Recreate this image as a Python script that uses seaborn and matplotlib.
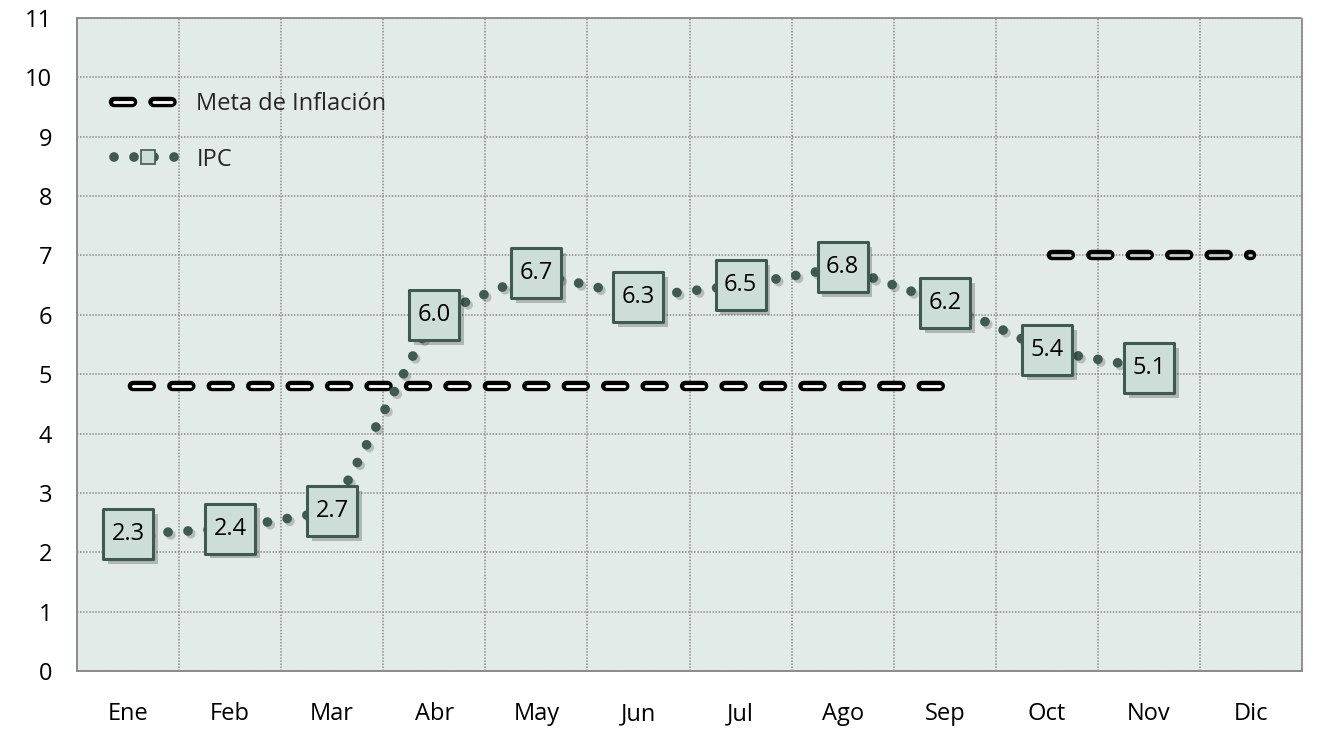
import matplotlib
matplotlib.use("Agg")
import matplotlib.pyplot as plt
import matplotlib.patheffects as pe
from matplotlib.lines import Line2D
import numpy as np
import pandas as pd
import seaborn as sns

# ---- data ----
months = ["Ene", "Feb", "Mar", "Abr", "May", "Jun", "Jul", "Ago", "Sep", "Oct", "Nov", "Dic"]
ipc_months = ["Ene", "Feb", "Mar", "Abr", "May", "Jun", "Jul", "Ago", "Sep", "Oct", "Nov"]
ipc_values = [2.3, 2.4, 2.7, 6.0, 6.7, 6.3, 6.5, 6.8, 6.2, 5.4, 5.1]
meta1_months = ["Ene", "Feb", "Mar", "Abr", "May", "Jun", "Jul", "Ago", "Sep"]
meta1_values = [4.8, 4.8, 4.8, 4.8, 4.8, 4.8, 4.8, 4.8, 4.8]
meta2_months = ["Oct", "Nov", "Dic"]
meta2_values = [7.0, 7.0, 7.0]
yticks = [0, 1, 2, 3, 4, 5, 6, 7, 8, 9, 10, 11]
label_meta = "Meta de Inflación"
label_ipc = "IPC"

# ---- styling ----
sns.set_theme(style="white")
plt.rcParams['font.family'] = ['Open Sans', 'DejaVu Sans']
plt.rcParams['lines.scale_dashes'] = False

BG = '#E2EBE8'
BOX = '#CDDDD8'
DARK = '#3E5B51'
GRID = '#8C8C8C'
FS = 17

pos = {m: i for i, m in enumerate(months)}
ipc_df = pd.DataFrame({"x": [pos[m] for m in ipc_months], "y": ipc_values})
m1_df = pd.DataFrame({"x": [pos[m] for m in meta1_months], "y": meta1_values})
m2_df = pd.DataFrame({"x": [pos[m] for m in meta2_months], "y": meta2_values})

fig = plt.figure(figsize=(13.19, 7.31), dpi=100)
ax = fig.add_axes([0.0584, 0.0821, 0.9287, 0.8933])
ax.set_facecolor(BG)

meta_ls = (-3.5, (13, 15.4))
meta_fx = [pe.Stroke(linewidth=7.5, foreground='black'), pe.Normal()]

for df, inner in [(m1_df, 'white'), (m2_df, '#C9C9C9')]:
    sns.lineplot(data=df, x="x", y="y", ax=ax, color=inner, lw=2.0,
                 linestyle=meta_ls, zorder=3)
    ln = ax.lines[-1]
    ln.set_dash_capstyle('round')
    ln.set_path_effects(meta_fx)

# IPC dotted line
dot_ls = (0, (0.01, 14.4))
sns.lineplot(data=ipc_df, x="x", y="y", ax=ax, color=DARK, lw=7,
             linestyle=dot_ls, zorder=4)
ipc_line = ax.lines[-1]
ipc_line.set_dash_capstyle('round')
ipc_line.set_path_effects([pe.SimpleLineShadow(offset=(2, -2), shadow_color='k', alpha=0.22),
                           pe.Normal()])

# IPC boxes
sns.scatterplot(data=ipc_df, x="x", y="y", ax=ax, marker='s', s=36 ** 2,
                color=BOX, edgecolor=DARK, linewidth=2.2, zorder=5, legend=False)
ax.collections[-1].set_path_effects([
    pe.SimplePatchShadow(offset=(3.5, -3.5), shadow_rgbFace='k', alpha=0.25),
    pe.Normal()])

for x, v in zip(ipc_df["x"], ipc_df["y"]):
    ax.text(x, v, f"{v:.1f}", ha='center', va='center', fontsize=FS,
            color='black', zorder=6)

# axes
ax.set_xlim(-0.5, len(months) - 0.5)
ax.set_ylim(0, 11)
ax.set_xticks(range(len(months)))
ax.set_xticklabels(months)
ax.set_xticks(np.arange(0.5, len(months) - 0.5, 1.0), minor=True)
ax.set_yticks(yticks)
ax.set_yticklabels([str(t) for t in yticks])
ax.set_xlabel("")
ax.set_ylabel("")
ax.tick_params(axis='both', which='both', length=0, labelsize=FS, colors='black')
ax.tick_params(axis='y', pad=18)
ax.tick_params(axis='x', pad=22.5)

ax.grid(False)
ax.yaxis.grid(True, which='major', color=GRID, linestyle=(0, (1, 1.2)), lw=1.2)
ax.xaxis.grid(True, which='minor', color=GRID, linestyle=(0, (1, 1.2)), lw=1.2)
ax.set_axisbelow(True)

for s in ['left', 'bottom']:
    ax.spines[s].set_color('#8A8A8A')
    ax.spines[s].set_linewidth(1.4)
for s in ['top', 'right']:
    ax.spines[s].set_color(GRID)
    ax.spines[s].set_linestyle((0, (1, 1.2)))
    ax.spines[s].set_linewidth(1.3)

# legend
h_meta = Line2D([], [], color='white', lw=2.0, linestyle=(0, (13, 15.4)),
                dash_capstyle='round', path_effects=meta_fx)
h_ipc = Line2D([], [], color=DARK, lw=7, linestyle=dot_ls, dash_capstyle='round',
               marker='s', markersize=10, markerfacecolor=BOX, markeredgecolor=DARK,
               markeredgewidth=1.2)
ax.legend([h_meta, h_ipc], [label_meta, label_ipc], loc='upper left',
          bbox_to_anchor=(0.030, 0.887), frameon=False, fontsize=FS,
          handlelength=2.9, handletextpad=0.6, labelspacing=1.35,
          borderpad=0, borderaxespad=0)

fig.savefig("out.png", dpi=100, facecolor='white')
